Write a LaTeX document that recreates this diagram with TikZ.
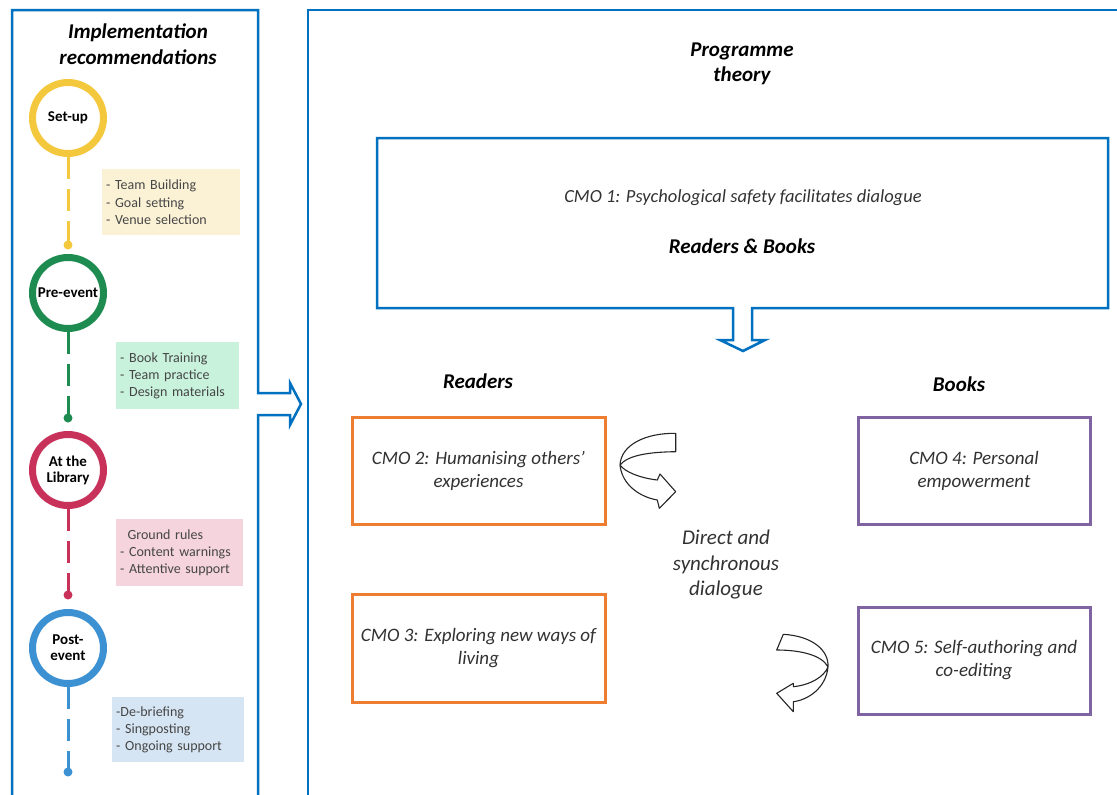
\documentclass[tikz,border=0pt]{standalone}
\usepackage{fontspec}
\setmainfont{Carlito}
\definecolor{pblue}{RGB}{0,112,192}
\definecolor{corange}{RGB}{237,125,49}
\definecolor{cpurple}{RGB}{128,100,162}
\definecolor{ryellow}{RGB}{243,200,60}
\definecolor{rgreen}{RGB}{30,140,80}
\definecolor{rred}{RGB}{200,50,90}
\definecolor{rblue}{RGB}{60,145,210}
\definecolor{fyellow}{RGB}{251,242,214}
\definecolor{fgreen}{RGB}{200,242,220}
\definecolor{fred}{RGB}{245,212,222}
\definecolor{fblue}{RGB}{214,229,243}
\definecolor{notegray}{RGB}{70,70,70}
\definecolor{textgray}{RGB}{50,50,50}
\begin{document}
\begin{tikzpicture}[x=1pt,y=-1pt,
  ring/.style={circle, draw=#1, line width=7pt, minimum size=71pt, inner sep=0pt, fill=white,
    font=\fontsize{15}{16}\selectfont\bfseries, align=center},
  dotnode/.style={circle, fill=#1, minimum size=9pt, inner sep=0pt},
  stem/.style={draw=#1, line width=3pt, dash pattern=on 22pt off 10pt},
  note/.style={fill=#1, text=notegray, font=\fontsize{14}{17.2}\selectfont, align=left,
    inner xsep=4pt, inner ysep=0pt, anchor=north west},
  cmobox/.style={draw=#1, line width=3pt, fill=white, align=center, text=textgray,
    font=\fontsize{19}{23}\selectfont\itshape},
  panel/.style={draw=pblue, line width=2.5pt, line join=miter},
  heading/.style={font=\fontsize{21}{25.5}\selectfont\bfseries\itshape, align=center},
  curvy/.style={draw=black!85, line width=1.1pt, fill=white, line join=round}
]
\useasboundingbox (0,0) rectangle (1117,795);

% left panel with right block arrow
\draw[panel] (12,800) -- (12,10) -- (258,10) -- (258,393) -- (290,393) -- (290,383)
  -- (301,404) -- (290,425) -- (290,415) -- (258,415) -- (258,800);
% right panel
\draw[panel] (308,800) -- (308,10) -- (1122,10);

% headings
\node[heading] (impl) at (138,44) {Implementation\\recommendations};
\node[heading] (prog) at (742,64) {Programme\\theory};

% timeline
\node[ring=ryellow] (r1) at (68,118) {Set-up};
\node[dotnode=ryellow] (d1) at (68,245) {};
\draw[stem=ryellow] (r1.south) -- (d1.center);
\node[note=fyellow, text width=130pt, minimum height=66pt] (n1) at (102,169)
  {- Team Building\\- Goal setting\\- Venue selection};

\node[ring=rgreen] (r2) at (68,293) {Pre-event};
\node[dotnode=rgreen] (d2) at (68,418) {};
\draw[stem=rgreen] (r2.south) -- (d2.center);
\node[note=fgreen, text width=115pt, minimum height=67pt] (n2) at (116,342)
  {- Book Training\\- Team practice\\- Design materials};

\node[ring=rred] (r3) at (68,470) {At the\\Library};
\node[dotnode=rred] (d3) at (68,595) {};
\draw[stem=rred] (r3.south) -- (d3.center);
\node[note=fred, text width=119pt, minimum height=67pt] (n3) at (116,519)
  {\hspace{7.4pt}Ground rules\\- Content warnings\\- Attentive support};

\node[ring=rblue] (r4) at (68,648) {Post-\\event};
\node[dotnode=rblue] (d4) at (68,772) {};
\draw[stem=rblue] (r4.south) -- (d4.center);
\node[note=fblue, text width=124pt, minimum height=65pt] (n4) at (112,697)
  {-De-briefing\\- Singposting\\- Ongoing support};

% CMO 1 box with down block arrow
\draw[panel] (377,138) -- (1108,138) -- (1108,308) -- (752,308) -- (752,340) -- (765,340)
  -- (743,351) -- (720,340) -- (733,340) -- (733,308) -- (377,308) -- cycle;
\node[text=textgray, font=\fontsize{18.5}{21}\selectfont\itshape] (cmo1) at (743,198)
  {CMO 1: Psychological safety facilitates dialogue};
\node[font=\fontsize{21}{25}\selectfont\bfseries\itshape] (rb) at (742,246) {Readers \& Books};

% column labels
\node[heading] (readers) at (478,381) {Readers};
\node[heading] (books) at (959,384) {Books};

% CMO boxes
\node[cmobox=corange, minimum width=253pt, minimum height=107pt] (c2) at (478.5,470.5)
  {CMO 2: Humanising others'\\experiences};
\node[cmobox=corange, minimum width=253pt, minimum height=108pt] (c3) at (478.5,648)
  {CMO 3: Exploring new ways of\\living};
\node[cmobox=cpurple, minimum width=232pt, minimum height=107pt] (c4) at (974,470.5)
  {CMO 4: Personal\\empowerment};
\node[cmobox=cpurple, minimum width=232pt, minimum height=107pt] (c5) at (974,660.5)
  {CMO 5: Self-authoring and\\co-editing};

\node[text=textgray, font=\fontsize{21}{25.5}\selectfont\itshape, align=center] (dsd) at (726,565)
  {Direct and\\synchronous\\dialogue};

% curved arrows
\draw[curvy] (675.7,433.3) .. controls (645,433) and (621,445) .. (620,465)
  .. controls (622,485) and (640,497) .. (657.3,500) -- (659.3,508.3) -- (675.7,491.7)
  -- (660,474) -- (657.3,480) .. controls (640,478) and (625,472) .. (620,465)
  .. controls (628,455) and (650,452) .. (675.7,451.7) -- cycle;
\draw[curvy] (783.3,634.3) .. controls (812,636) and (829,650) .. (828,667)
  .. controls (826,688) and (808,700) .. (793.3,701.7) -- (793.3,711.7) -- (776.7,693.3)
  -- (793.3,683.3) -- (793.3,686.7) .. controls (810,685) and (824,677) .. (828,667)
  .. controls (822,655) and (800,650) .. (776.7,650) -- cycle;
\end{tikzpicture}
\end{document}
